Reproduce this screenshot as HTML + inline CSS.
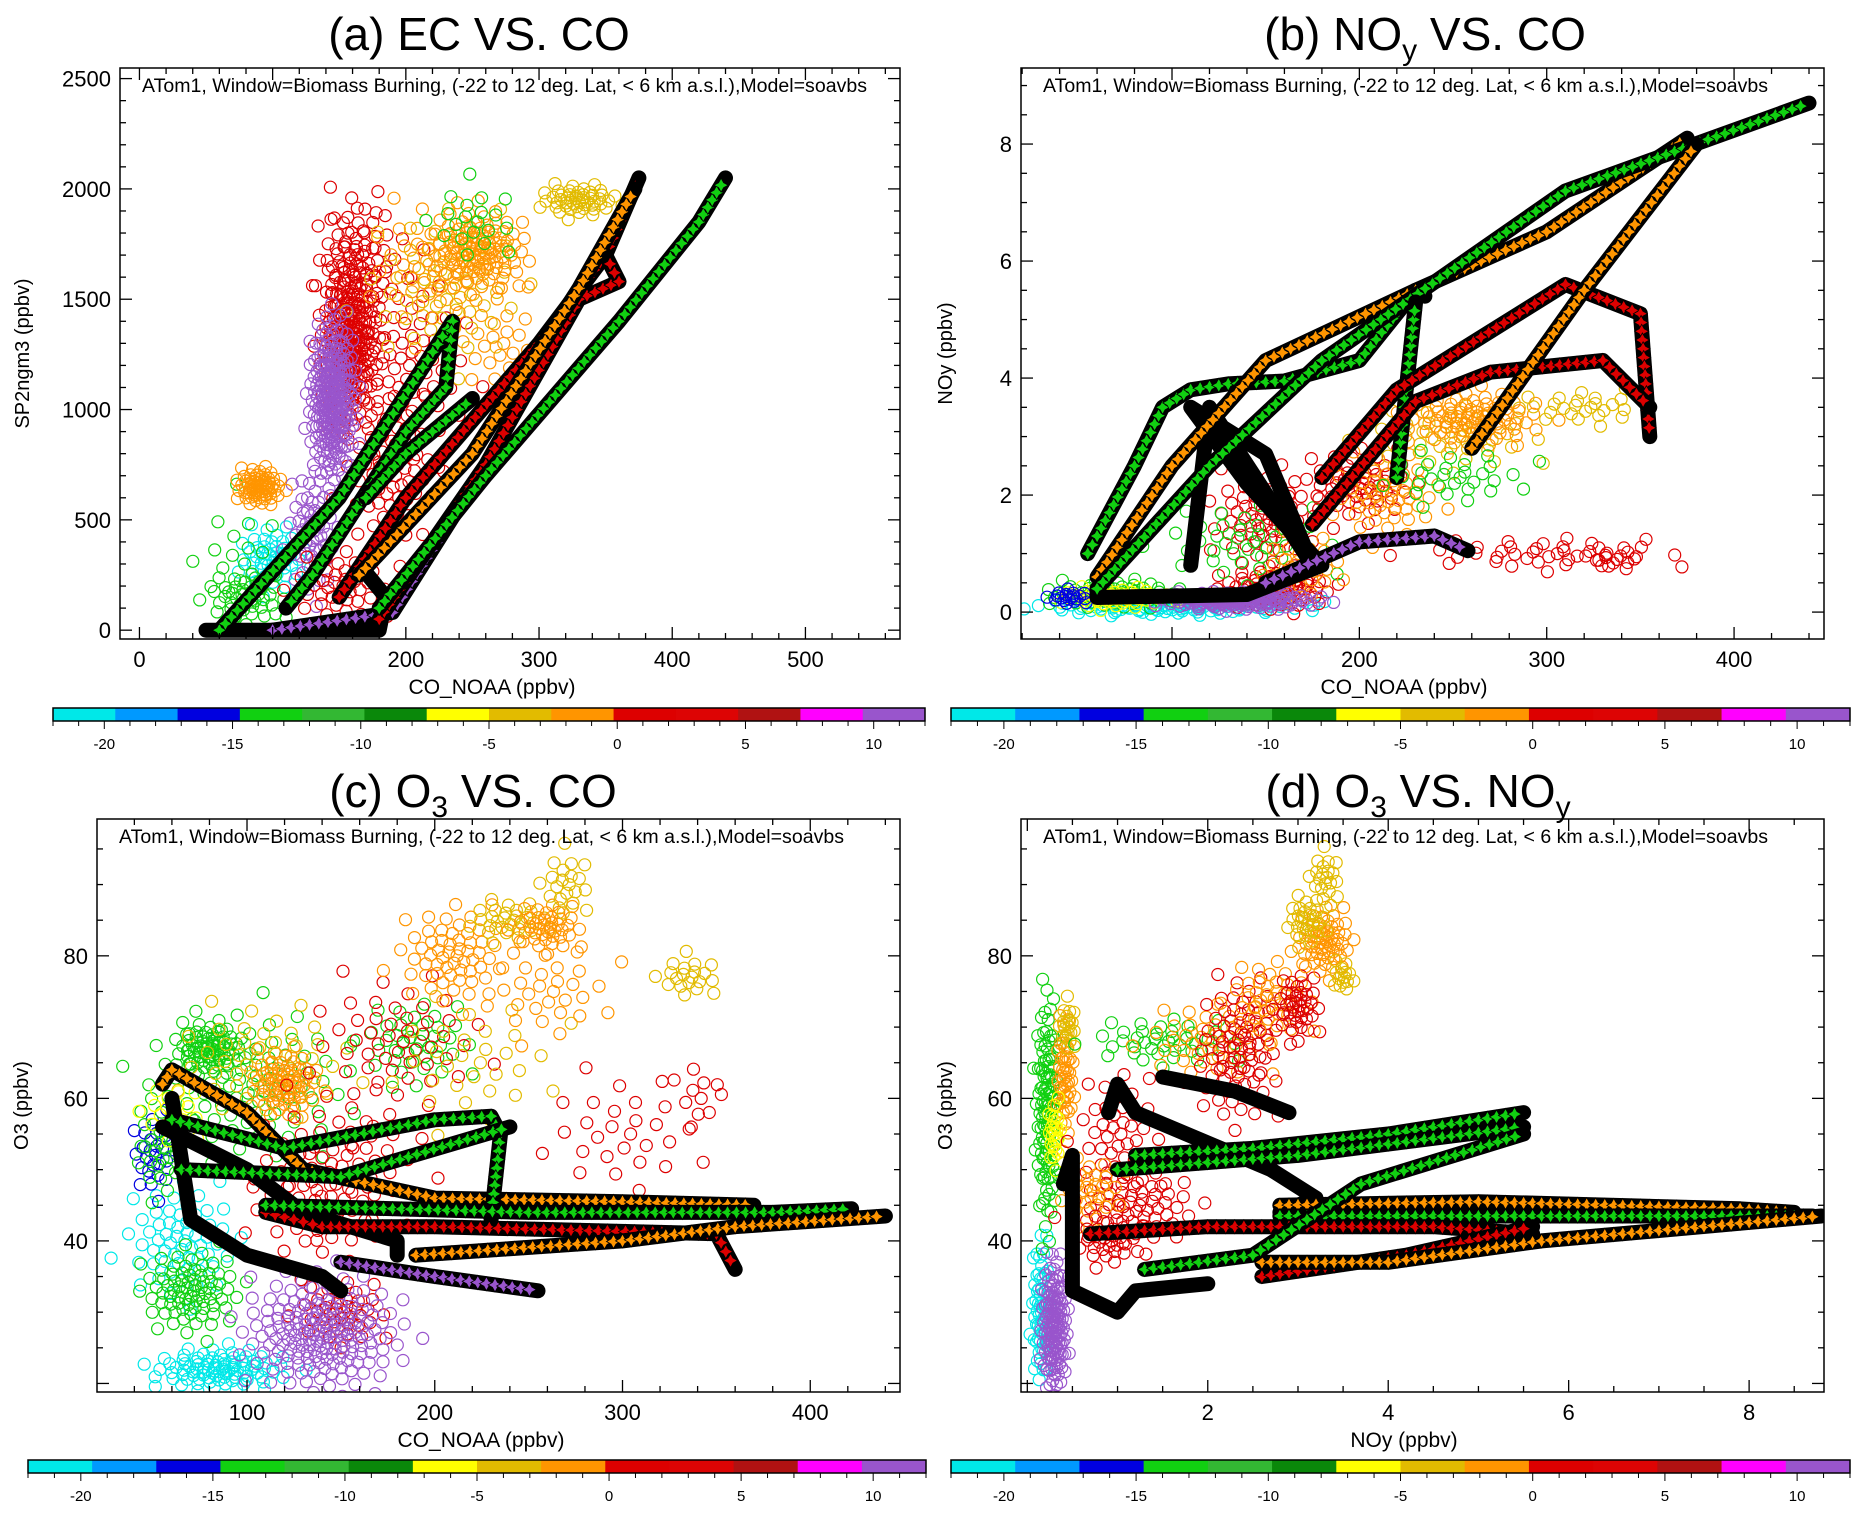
<!DOCTYPE html>
<html><head><meta charset="utf-8"><title>ATom1 Biomass Burning scatter panels</title>
<style>
html,body{margin:0;padding:0;background:#fff;}
svg{display:block;font-family:"Liberation Sans",sans-serif;}
</style></head>
<body>
<svg id="fig" width="1868" height="1519" viewBox="0 0 1868 1519" xmlns="http://www.w3.org/2000/svg"></svg>
<script>
// ---------- DATA ----------
const colorKeys = ['cy','lb','bl','g','g2','dg','y','gd','o','r','r2','dr','mg','p'];
const colorHex = ['#00e8e8','#0099ff','#0000e0','#11d011','#33b833','#0a880a','#ffff00','#e2bb00','#ff9500','#dd0000','#dd0404','#b01212','#ff00ff','#9955cc'];
const cbarTicks = [-20,-15,-10,-5,0,5,10];

const axA_xticks = [0,100,200,300,400,500];
const axA_yticks = [0,500,1000,1500,2000,2500];
const axB_xticks = [100,200,300,400];
const axB_yticks = [0,2,4,6,8];
const axC_xticks = [100,200,300,400];
const axC_yticks = [40,60,80];
const axD_xticks = [2,4,6,8];
const axD_yticks = [40,60,80];

// clouds: [x, y, spreadX, spreadY, colour, count]
const cloudsA = [
[100,330,22,120,'cy',50],[80,150,25,100,'g',40],[75,300,30,250,'g',20],
[130,450,15,250,'p',60],[150,200,30,150,'r',40],[190,700,30,300,'r',60],
[200,1200,40,400,'r',70],[158,1300,18,300,'r',220],[165,1700,30,250,'r',50],
[160,1600,20,300,'r',40],[90,650,14,70,'o',70],[230,1550,50,300,'gd',60],
[220,1650,40,250,'o',50],[255,1720,30,150,'o',110],[270,1300,30,200,'o',25],
[250,1850,30,150,'g',20],[330,1950,25,60,'gd',50],[145,1050,14,300,'p',260]
];
const cloudsB = [
[100,0.1,60,0.12,'cy',120],[70,0.3,30,0.2,'g',70],[70,0.25,25,0.15,'y',50],
[45,0.25,10,0.1,'bl',20],[155,0.4,25,0.3,'r',80],[150,1.6,25,0.7,'r',70],
[140,1.2,40,0.6,'g',40],[170,0.8,20,0.5,'o',30],[200,2.2,25,0.5,'r',60],
[215,2.0,25,0.6,'o',50],[250,3.0,40,0.5,'gd',40],[260,3.3,30,0.4,'o',90],
[320,3.5,30,0.25,'gd',25],[250,2.3,35,0.4,'g',30],[300,1.0,60,0.25,'r',40],
[335,0.9,15,0.15,'r',12],[135,0.2,35,0.12,'p',160]
];
const cloudsC = [
[85,22,30,2.5,'cy',90],[65,40,25,7,'cy',60],[70,33,22,5,'g',80],
[100,62,50,9,'g',90],[80,67,15,3,'g',70],[110,65,40,7,'gd',50],[120,62,15,4,'o',70],
[50,52,10,5,'bl',25],[55,53,12,6,'g',30],[60,58,15,4,'y',20],
[150,52,40,8,'r',50],[140,45,35,7,'r',50],[150,30,20,4,'r',40],
[190,68,25,5,'g',40],[180,68,40,8,'r',50],[220,65,40,8,'gd',30],
[210,80,25,6,'o',60],[240,85,20,2.5,'gd',30],[260,84,15,3,'o',40],
[270,90,12,4,'gd',20],[260,75,30,6,'o',30],[335,77,15,2.5,'gd',20],
[300,55,40,8,'r',30],[340,60,10,5,'r',10],[140,27,35,7,'p',180]
];
const cloudsD = [
[0.15,30,0.08,9,'cy',60],[0.3,28,0.12,8,'p',140],[0.22,58,0.1,14,'g',120],
[0.42,63,0.08,7,'o',50],[0.3,55,0.06,4,'y',25],[0.45,70,0.08,3,'gd',20],
[1.0,55,0.4,8,'r',40],[1.2,45,0.6,5,'r',60],[0.7,47,0.3,4,'o',30],
[0.9,40,0.3,3,'r',30],[1.5,68,0.7,3,'g',40],[2.0,68,0.6,5,'o',40],
[2.3,63,0.4,6,'r',40],[2.4,70,0.4,6,'r',50],[2.7,74,0.4,5,'o',40],
[3.0,73,0.2,4,'r',40],[3.3,82,0.25,4,'o',60],[3.1,85,0.2,3,'gd',30],
[3.3,91,0.15,3,'gd',20],[3.5,77,0.1,2,'gd',15]
];

// model tracks: colour + vertices [x,y,...]
const tracksA = [
['k',[50,0,180,0,185,150,170,260]],
['g',[60,0,150,600,235,1400,230,1100,200,900,130,250,110,100]],
['p',[100,0,190,80,260,750]],
['r',[150,150,200,600,300,1300,350,1700,375,2050]],
['r',[180,50,260,750,330,1500,360,1580,350,1700]],
['o',[165,250,250,800,330,1550,372,2000]],
['g',[180,100,260,700,360,1400,420,1850,440,2050]],
['g',[170,600,200,800,250,1050]]
];
const tracksB = [
['k',[60,0.4,60,0.25,140,0.3,180,0.8,140,2.2,110,3.5,150,2.7,175,0.8]],
['k',[110,0.8,120,3.5,175,0.8]],
['g',[55,1.0,60,1.3,80,2.5,95,3.5,110,3.8,130,3.9,160,3.95,200,4.3,230,5.5,235,5.4]],
['o',[60,0.6,100,2.5,150,4.3,230,5.5,300,6.5,375,8.1]],
['g',[60,0.4,120,2.5,180,4.3,310,7.2,440,8.7]],
['g',[220,2.3,230,5.3]],
['r',[180,2.3,220,3.8,310,5.6,350,5.1,355,3.0]],
['r',[175,1.5,230,3.6,270,4.1,330,4.3,355,3.5]],
['o',[260,2.8,320,5.5,380,8.0]],
['p',[150,0.5,200,1.2,240,1.3,258,1.05]]
];
const tracksC = [
['k',[60,60,70,43,100,38,140,35,150,33]],
['k',[55,56,100,50,130,44,180,40,180,38]],
['o',[55,62,60,64,100,58,130,50,200,46,300,45.5,370,45]],
['g',[60,57,120,53,200,57,230,57.5,235,55,230,43]],
['g',[65,50,150,49,240,56]],
['r',[110,44,140,42,200,42,350,41,360,36]],
['g',[110,45,250,44,380,44,422,44.5]],
['p',[150,37,200,35,255,33]],
['o',[190,38,300,40,360,42,440,43.5]]
];
const tracksD = [
['k',[0.4,48,0.5,52,0.5,33,1.0,30,1.2,33,2.0,34]],
['k',[0.9,58,1.0,62,1.2,58,2.7,50,3.2,46,2.8,44]],
['k',[1.5,63,2.3,61,2.9,58]],
['g',[1.2,52,2.5,53,4.0,55,5.5,58]],
['g',[1.0,50,2.0,51,3.0,52,5.5,56]],
['o',[2.8,45,5.0,45.5,7.9,44.5,8.5,44]],
['g',[2.8,43.5,8.7,43.5]],
['r',[0.7,41,2.0,42,4.5,42,5.6,41]],
['r',[2.6,35,4.2,38,5.6,42]],
['o',[2.6,37,4.0,37,5.7,40,8.8,43.5]],
['g',[1.3,36,2.5,38,3.7,48,5.5,55]]
];

// ---------- DRAWING ----------
const NS='http://www.w3.org/2000/svg';
const svg=document.getElementById('fig');
function mk(tag,attrs,parent){const e=document.createElementNS(NS,tag);for(const k in attrs)e.setAttribute(k,attrs[k]);(parent||svg).appendChild(e);return e;}
function col(k){const i=colorKeys.indexOf(k);return i<0?'#000':colorHex[i];}

function drawPanel(P){
  const g=mk('g',{});
  
  
  const sx=v=>P.L+(v-P.x0)/(P.x1-P.x0)*(P.R-P.L);
  const sy=v=>P.B-(v-P.y0)/(P.y1-P.y0)*(P.B-P.T);
  const cid='clip-'+P.name;
  const cp=mk('clipPath',{id:cid},g);mk('rect',{x:P.L,y:P.T,width:P.R-P.L,height:P.B-P.T},cp);
  const plot=mk('g',{'clip-path':'url(#'+cid+')'},g);
  
  
  // observation clouds (deterministic golden-angle spiral, gaussian-like radius)
  P.clouds.forEach(c=>{
    const cg=mk('g',{fill:'none',stroke:col(c[4]),'stroke-width':1.2},plot);
    
    
    const n=c[5];
    for(let i=0;i<n;i++){
      const u=(i+0.5)/n;
      const r=Math.min(1.7,Math.sqrt(-2*Math.log(1-u*0.97))*0.6),th=i*2.39996;
      mk('circle',{cx:sx(c[0]+r*Math.cos(th)*c[2]).toFixed(1),cy:sy(c[1]+r*Math.sin(th)*c[3]).toFixed(1),r:6},cg);
    }
  });
  // model tracks
  P.tracks.forEach(t=>{
    const v=t[1];const pts=[];
    for(let i=0;i<v.length;i+=2)pts.push([sx(v[i]),sy(v[i+1])]);
    const pl=mk('polyline',{points:pts.map(p=>p[0].toFixed(1)+','+p[1].toFixed(1)).join(' '),fill:'none',stroke:'#000','stroke-width':15,'stroke-linejoin':'round','stroke-linecap':'round'},plot);
    
    
    if(t[0]==='k')return;
    const mg=mk('g',{fill:col(t[0]),stroke:'#000','stroke-width':0.8},plot);
    
    
    for(let i=0;i<pts.length-1;i++){
      const a=pts[i],b=pts[i+1];const d=Math.hypot(b[0]-a[0],b[1]-a[1]);const n=Math.max(1,Math.round(d/9));
      for(let j=0;j<n;j++){const x=a[0]+(b[0]-a[0])*j/n,y=a[1]+(b[1]-a[1])*j/n;
        mk('path',{d:'M0,-7L2.5,-2.5L7,0L2.5,2.5L0,7L-2.5,2.5L-7,0L-2.5,-2.5Z',transform:'translate('+x.toFixed(1)+','+y.toFixed(1)+')'},mg);}
    }
  });
  const fr=mk('rect',{x:P.L,y:P.T,width:P.R-P.L,height:P.B-P.T,fill:'none',stroke:'#000','stroke-width':1.5},g);
  
  
  const tk=mk('g',{stroke:'#000','stroke-width':1.3},g);
  for(let v=Math.ceil(P.x0/P.xmin)*P.xmin;v<=P.x1;v+=P.xmin){const x=sx(v);const maj=Math.abs(v/P.xmaj-Math.round(v/P.xmaj))<1e-6;const l=maj?12:6;
    mk('line',{x1:x,x2:x,y1:P.B,y2:P.B-l},tk);mk('line',{x1:x,x2:x,y1:P.T,y2:P.T+l},tk);}
  for(let v=Math.ceil(P.y0/P.ymin)*P.ymin;v<=P.y1;v+=P.ymin){const y=sy(v);const maj=Math.abs(v/P.ymaj-Math.round(v/P.ymaj))<1e-6;const l=maj?12:6;
    mk('line',{y1:y,y2:y,x1:P.L,x2:P.L+l},tk);mk('line',{y1:y,y2:y,x1:P.R,x2:P.R-l},tk);}
  P.xt.forEach(v=>{const t=mk('text',{x:sx(v),y:P.B+28,'font-size':22,'text-anchor':'middle'},g);t.textContent=v;
    });
  P.yt.forEach(v=>{const t=mk('text',{x:P.L-9,y:sy(v)+8,'font-size':22,'text-anchor':'end'},g);t.textContent=v;
    });
  const xt=mk('text',{x:P.xtx,y:P.B+55,'font-size':21,'text-anchor':'middle'},g);xt.textContent=P.xlabel;
  
  const yc=(P.T+P.B)/2;
  const yt=mk('text',{x:0,y:0,'font-size':20,'text-anchor':'middle',transform:'translate('+(P.ytx+7)+','+yc+') rotate(-90)'},g);yt.textContent=P.ylabel;
  
  const an=mk('text',{x:P.L+22,y:P.T+24,'font-size':19,textLength:725,lengthAdjust:'spacingAndGlyphs'},g);
  an.textContent='ATom1, Window=Biomass Burning, (-22 to 12 deg. Lat, < 6 km a.s.l.),Model=soavbs';
  
  const ti=mk('text',{x:P.tx,y:P.ty,'font-size':46,'text-anchor':'middle'},g);ti.innerHTML=P.title;
  
  const cb=mk('g',{},g);
  const cw=(P.cR-P.cL)/colorHex.length;
  colorHex.forEach((c,i)=>mk('rect',{x:P.cL+i*cw,y:P.cT,width:cw+0.5,height:13,fill:c},cb));
  mk('rect',{x:P.cL,y:P.cT,width:P.cR-P.cL,height:13,fill:'none',stroke:'#000','stroke-width':1.5},cb);
  const cx=v=>P.cL+(v+22)/34*(P.cR-P.cL);
  for(let v=-22;v<=12;v++){const maj=v%5===0;mk('line',{x1:cx(v),x2:cx(v),y1:P.cT+13,y2:P.cT+13+(maj?8:5),stroke:'#000','stroke-width':1},cb);}
  cbarTicks.forEach(v=>{const t=mk('text',{x:cx(v),y:P.cT+41,'font-size':15,'text-anchor':'middle'},cb);t.textContent=v;
    });
}

drawPanel({name:'panel-a-ec-vs-co',L:120,R:900,T:68,B:639,x0:-14.6,x1:571,y0:-40,y1:2548,xmaj:100,xmin:20,ymaj:500,ymin:100,
 xt:axA_xticks,yt:axA_yticks,clouds:cloudsA,tracks:tracksA,xlabel:'CO_NOAA (ppbv)',ylabel:'SP2ngm3 (ppbv)',xtx:492,ytx:22,
 title:'(a) EC VS. CO',tx:479,ty:50,cL:53,cR:925,cT:708});
drawPanel({name:'panel-b-noy-vs-co',L:1021,R:1824,T:68,B:639,x0:19.4,x1:448,y0:-0.46,y1:9.3,xmaj:100,xmin:20,ymaj:2,ymin:0.5,
 xt:axB_xticks,yt:axB_yticks,clouds:cloudsB,tracks:tracksB,xlabel:'CO_NOAA (ppbv)',ylabel:'NOy (ppbv)',xtx:1404,ytx:945,
 title:'(b) NO<tspan font-size="30" dy="10">y</tspan><tspan dy="-10"> VS. CO</tspan>',tx:1425,ty:50,cL:951,cR:1850,cT:708});
drawPanel({name:'panel-c-o3-vs-co',L:97,R:900,T:819,B:1392,x0:20.1,x1:447.8,y0:18.8,y1:99.2,xmaj:100,xmin:20,ymaj:20,ymin:5,
 xt:axC_xticks,yt:axC_yticks,clouds:cloudsC,tracks:tracksC,xlabel:'CO_NOAA (ppbv)',ylabel:'O3 (ppbv)',xtx:481,ytx:21,
 title:'(c) O<tspan font-size="30" dy="10">3</tspan><tspan dy="-10"> VS. CO</tspan>',tx:473,ty:807,cL:28,cR:926,cT:1460});
drawPanel({name:'panel-d-o3-vs-noy',L:1021,R:1824,T:819,B:1392,x0:-0.07,x1:8.83,y0:18.8,y1:99.2,xmaj:2,xmin:0.5,ymaj:20,ymin:5,
 xt:axD_xticks,yt:axD_yticks,clouds:cloudsD,tracks:tracksD,xlabel:'NOy (ppbv)',ylabel:'O3 (ppbv)',xtx:1404,ytx:945,
 title:'(d) O<tspan font-size="30" dy="10">3</tspan><tspan dy="-10"> VS. NO</tspan><tspan font-size="30" dy="10">y</tspan>',tx:1418,ty:807,cL:951,cR:1850,cT:1460});
</script>
</body></html>
